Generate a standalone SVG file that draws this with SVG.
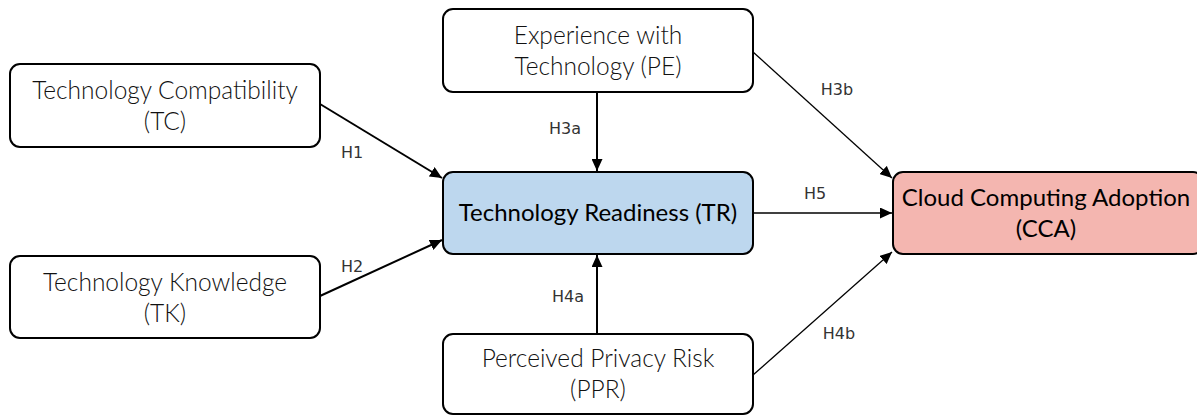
<svg xmlns="http://www.w3.org/2000/svg" width="1197" height="416" viewBox="0 0 1197 416">
  <style>
    .box { fill: #ffffff; stroke: #000000; stroke-width: 2; }
    .tr { fill: #bdd7ee; }
    .cca { fill: #f4b6b0; }
    .lbl { font-family: Lato, "Open Sans", sans-serif; font-size: 24.5px; fill: #111111; text-anchor: middle; font-weight: 300; }
    .lbl-strong { font-family: Lato, "Open Sans", sans-serif; font-size: 24px; fill: #000000; text-anchor: middle; font-weight: 400; }
    .edge { fill: none; stroke: #000000; }
    .thick { stroke-width: 2; }
    .thin { stroke-width: 1.3; }
    .hyp { font-family: "DejaVu Sans", sans-serif; font-size: 16px; fill: #333333; text-anchor: middle; }
  </style>
  <defs>
    <!-- filled triangular arrowhead shared by all connectors -->
    <marker id="headBig" viewBox="0 0 10 10" refX="10" refY="5" markerWidth="12" markerHeight="11" markerUnits="userSpaceOnUse" orient="auto" preserveAspectRatio="none">
      <path d="M0,0 L10,5 L0,10 z" fill="#000000"/>
    </marker>
  </defs>

  <!-- connectors -->
  <g id="connectors">
    <line class="edge thick" x1="320" y1="104" x2="442" y2="178" marker-end="url(#headBig)"/>
    <line class="edge thick" x1="320" y1="296" x2="442" y2="240" marker-end="url(#headBig)"/>
    <line class="edge thick" x1="597" y1="92" x2="597" y2="171" marker-end="url(#headBig)"/>
    <line class="edge thick" x1="597" y1="334" x2="597" y2="255" marker-end="url(#headBig)"/>
    <line class="edge thin" x1="753" y1="213" x2="892" y2="213" marker-end="url(#headBig)"/>
    <line class="edge thin" x1="753" y1="52" x2="892" y2="178" marker-end="url(#headBig)"/>
    <line class="edge thin" x1="753" y1="375" x2="892" y2="252" marker-end="url(#headBig)"/>
    <text class="hyp" x="352" y="158">H1</text>
    <text class="hyp" x="352" y="272">H2</text>
    <text class="hyp" x="565" y="134">H3a</text>
    <text class="hyp" x="568" y="302">H4a</text>
    <text class="hyp" x="815" y="199">H5</text>
    <text class="hyp" x="837" y="95">H3b</text>
    <text class="hyp" x="839" y="339">H4b</text>
  </g>

  <g id="node-tc">
    <rect class="box" x="10" y="64" width="310" height="83" rx="10"/>
    <text class="lbl" x="165" y="99">Technology Compatibility</text>
    <text class="lbl" x="165" y="130">(TC)</text>
  </g>

  <g id="node-tk">
    <rect class="box" x="10" y="256" width="310" height="82" rx="10"/>
    <text class="lbl" x="165" y="291">Technology Knowledge</text>
    <text class="lbl" x="165" y="322">(TK)</text>
  </g>

  <g id="node-pe">
    <rect class="box" x="443" y="9" width="310" height="83" rx="10"/>
    <text class="lbl" x="598" y="44">Experience with</text>
    <text class="lbl" x="598" y="75">Technology (PE)</text>
  </g>

  <g id="node-tr">
    <rect class="box tr" x="443" y="172" width="310" height="82" rx="10"/>
    <text class="lbl-strong" x="598" y="221">Technology Readiness (TR)</text>
  </g>

  <g id="node-ppr">
    <rect class="box" x="443" y="334" width="310" height="80" rx="10"/>
    <text class="lbl" x="598" y="367">Perceived Privacy Risk</text>
    <text class="lbl" x="598" y="398">(PPR)</text>
  </g>

  <g id="node-cca">
    <rect class="box cca" x="893" y="172" width="310" height="82" rx="10"/>
    <text class="lbl-strong" x="1046" y="206">Cloud Computing Adoption</text>
    <text class="lbl-strong" x="1046" y="237">(CCA)</text>
  </g>
</svg>
